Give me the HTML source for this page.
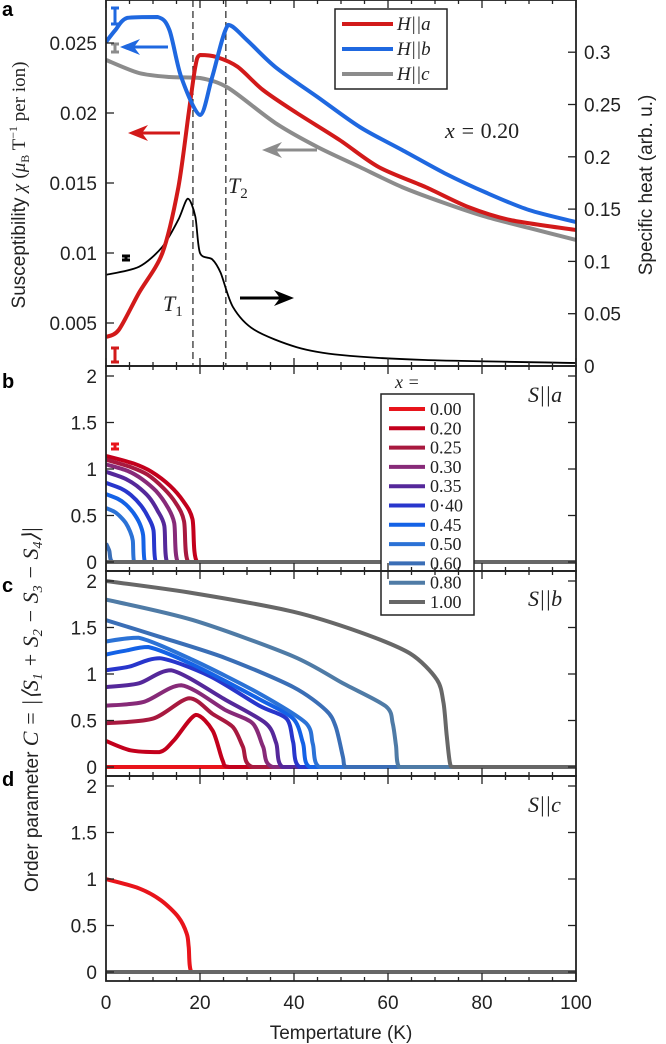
<!DOCTYPE html>
<html><head><meta charset="utf-8"><style>
body{margin:0;background:#fff;}
svg{display:block;font-family:"Liberation Sans",sans-serif;}
.tk{font-size:19px;fill:#222;}
.m{font-family:"Liberation Serif",serif;font-style:italic;fill:#222;}
</style></head><body>
<svg id="fig" width="666" height="1044" viewBox="0 0 666 1044">
<defs>
<clipPath id="cpa"><rect x="106" y="0" width="470" height="366"/></clipPath>
<clipPath id="cpb"><rect x="106" y="366" width="470" height="205"/></clipPath>
<clipPath id="cpc"><rect x="106" y="571" width="470" height="205"/></clipPath>
<clipPath id="cpd"><rect x="106" y="776" width="470" height="205"/></clipPath>
</defs>
<g id="marks"></g>
<g id="axes"></g>
<text x="2" y="16" font-weight="bold" font-size="20">a</text>
<text x="2" y="388" font-weight="bold" font-size="20">b</text>
<text x="2" y="592" font-weight="bold" font-size="20">c</text>
<text x="2" y="786" font-weight="bold" font-size="20">d</text>
<text transform="translate(25,185) rotate(-90)" text-anchor="middle" font-size="19" fill="#222">Susceptibility <tspan class="m">χ</tspan> <tspan font-family="Liberation Serif">(<tspan font-style="italic">μ</tspan><tspan font-size="12" dy="4">B</tspan><tspan dy="-4"> T</tspan><tspan font-size="12" dy="-8">−1</tspan><tspan dy="8"> per ion)</tspan></tspan></text>
<text transform="translate(652,185) rotate(-90)" text-anchor="middle" font-size="19" fill="#222">Specific heat (arb. u.)</text>
<text transform="translate(38,892) rotate(-90)" font-size="19" fill="#222">Order parameter <tspan class="m" font-size="22">C = |⟨S<tspan font-size="14" dy="4">1</tspan><tspan dy="-4"> + S</tspan><tspan font-size="14" dy="4">2</tspan><tspan dy="-4"> − S</tspan><tspan font-size="14" dy="4">3</tspan><tspan dy="-4"> − S</tspan><tspan font-size="14" dy="4">4</tspan><tspan dy="-4">⟩|</tspan></tspan></text>
<text x="341" y="1039" text-anchor="middle" font-size="19" fill="#222">Tempertature (K)</text>
<text x="445" y="138" font-size="22" class="m">x = <tspan font-style="normal">0.20</tspan></text>
<text x="228" y="193" font-size="22" class="m">T<tspan font-size="15" dy="5" font-style="normal">2</tspan></text>
<text x="163" y="311" font-size="22" class="m">T<tspan font-size="15" dy="5" font-style="normal">1</tspan></text>
<text x="528" y="402" font-size="22" class="m">S||a</text>
<text x="528" y="606" font-size="22" class="m">S||b</text>
<text x="528" y="812" font-size="22" class="m">S||c</text>
</svg>
<script>
// ---------- data ----------
const tempTicks = [0, 20, 40, 60, 80, 100];
const chiTicks = [0.005, 0.01, 0.015, 0.02, 0.025];
const chiTickLabels = ["0.005", "0.01", "0.015", "0.02", "0.025"];
const heatTicks = [0, 0.05, 0.1, 0.15, 0.2, 0.25, 0.3];
const heatTickLabels = ["0", "0.05", "0.1", "0.15", "0.2", "0.25", "0.3"];
const opTicks = [0, 0.5, 1, 1.5, 2];
const opTickLabels = ["0", "0.5", "1", "1.5", "2"];

const chiA_T = [0, 2.7, 7, 12, 15.4, 17.6, 19, 20, 23.5, 28, 33.4, 40.6, 49.7, 58, 68, 77, 86, 100];
const chiA_V = [0.0040, 0.0045, 0.00714, 0.0100, 0.01471, 0.0200, 0.02329, 0.02414, 0.0240, 0.0233, 0.02164, 0.0200, 0.01807, 0.01614, 0.01471, 0.01329, 0.01236, 0.01164];
const chiB_T = [0, 2, 4.5, 11, 13.5, 16, 20, 22.6, 26, 30, 36, 45, 54, 63, 72, 81, 90, 100];
const chiB_V = [0.02507, 0.02593, 0.02679, 0.02686, 0.02593, 0.02257, 0.01986, 0.02257, 0.02629, 0.02521, 0.02329, 0.02114, 0.0190, 0.01736, 0.01571, 0.01429, 0.01307, 0.01221];
const chiC_T = [0, 7, 13.5, 20, 26, 36, 45, 54, 63, 72, 81, 90, 100];
const chiC_V = [0.02379, 0.02286, 0.02257, 0.0225, 0.02179, 0.01929, 0.01757, 0.01614, 0.01471, 0.01357, 0.01257, 0.01179, 0.01093];
const heat_T = [0, 7, 12, 15.4, 17.4, 19, 20, 22.6, 24.4, 27, 31.6, 40.6, 50, 68, 100];
const heat_V = [0.0872, 0.0948, 0.114, 0.14, 0.16, 0.143, 0.108, 0.102, 0.089, 0.0565, 0.0345, 0.018, 0.0105, 0.0057, 0.0029];
const transitionTemps = [18.5, 25.5];

const dopings = ["0.00", "0.20", "0.25", "0.30", "0.35", "0·40", "0.45", "0.50", "0.60", "0.80", "1.00"];
const sa_T = [
 [0, 100],
 [0, 5.8, 9.7, 13.6, 16.5, 18.4, 19.4, 100],
 [0, 5.3, 8.8, 12.3, 14.9, 16.6, 17.5, 100],
 [0, 4.6, 7.7, 10.7, 13, 14.5, 15.3, 100],
 [0, 3.9, 6.5, 9.1, 11, 12.4, 13, 100],
 [0, 3.2, 5.3, 7.4, 9, 10.1, 10.6, 100],
 [0, 2.5, 4.2, 5.8, 7.1, 7.9, 8.3, 100],
 [0, 1.8, 3, 4.2, 5.1, 5.7, 6, 100],
 [0, 0.7, 1.4, 100],
 [0, 100],
 [0, 100]];
const sa_V = [
 [0, 0],
 [1.14, 1.06, 0.97, 0.82, 0.65, 0.46, 0, 0],
 [1.10, 1.02, 0.94, 0.79, 0.63, 0.44, 0, 0],
 [1.05, 0.98, 0.89, 0.76, 0.60, 0.42, 0, 0],
 [0.97, 0.90, 0.82, 0.70, 0.55, 0.39, 0, 0],
 [0.85, 0.79, 0.72, 0.61, 0.48, 0.34, 0, 0],
 [0.73, 0.68, 0.62, 0.53, 0.42, 0.29, 0, 0],
 [0.58, 0.54, 0.49, 0.42, 0.33, 0.23, 0, 0],
 [0.2, 0.12, 0, 0],
 [0, 0],
 [0, 0]];
const sb_T = [
 [0, 100],
 [0, 5.2, 11.4, 14.5, 19.1, 22.7, 24.8, 26.2, 100],
 [0, 10, 17.7, 22.7, 27, 29.1, 31.2, 100],
 [0, 8, 16, 25.5, 31.2, 33.4, 35.5, 100],
 [0, 7, 13.9, 25.5, 34, 36.2, 37.6, 100],
 [0, 5, 11.4, 22, 32.6, 38.4, 39.8, 41.2, 100],
 [0, 4, 9, 18.5, 32.6, 39.8, 41.9, 43.3, 100],
 [0, 6.9, 18.5, 32.6, 42.6, 44, 45.4, 100],
 [0, 11.4, 25.5, 39.8, 46.8, 48.9, 50.4, 51, 100],
 [0, 18.5, 39.8, 50.4, 59.6, 61, 61.7, 62.4, 100],
 [0, 18.5, 39.8, 54, 64.7, 70.4, 71.8, 72.5, 73.2, 74, 100]];
const sb_V = [
 [0, 0],
 [0.28, 0.18, 0.16, 0.29, 0.56, 0.39, 0.07, 0, 0],
 [0.47, 0.52, 0.74, 0.57, 0.43, 0.22, 0, 0],
 [0.66, 0.70, 0.88, 0.61, 0.47, 0.22, 0, 0],
 [0.86, 0.90, 1.04, 0.72, 0.47, 0.26, 0, 0],
 [1.04, 1.08, 1.17, 0.98, 0.66, 0.52, 0.27, 0, 0],
 [1.21, 1.25, 1.29, 1.10, 0.73, 0.52, 0.26, 0, 0],
 [1.35, 1.39, 1.15, 0.79, 0.47, 0.25, 0, 0],
 [1.58, 1.40, 1.17, 0.86, 0.61, 0.43, 0.11, 0, 0],
 [1.80, 1.58, 1.19, 0.90, 0.65, 0.47, 0.23, 0, 0],
 [2.0, 1.87, 1.67, 1.45, 1.22, 0.94, 0.69, 0.33, 0.04, 0, 0]];
const sc_T = [
 [0, 7, 11.7, 15.4, 17.2, 17.6, 18.2, 100],
 [0, 100], [0, 100], [0, 100], [0, 100], [0, 100], [0, 100], [0, 100], [0, 100], [0, 100], [0, 100]];
const sc_V = [
 [1.0, 0.9, 0.77, 0.59, 0.41, 0.27, 0, 0],
 [0, 0], [0, 0], [0, 0], [0, 0], [0, 0], [0, 0], [0, 0], [0, 0], [0, 0], [0, 0]];
const dopingColors = ["#e8141b", "#c3001c", "#a8193f", "#872a78", "#55289a", "#2836cc", "#1462e6", "#2b72d6", "#3a6eb6", "#4f7ba6", "#676767"];

// ---------- scales ----------
const NS = "http://www.w3.org/2000/svg";
const X0 = 106, X1 = 576;
function xS(t) { return X0 + t * (X1 - X0) / 100; }
function yChi(v) { return 43 + (0.025 - v) / 0.005 * 70; }
function yHeat(v) { return 366 - v / 0.05 * 52.3; }
const panelTops = [366, 571, 776];
function yOP(p, v) { return panelTops[p] + 10 + (2 - v) * 93; }

const marks = document.getElementById('marks');
const axes = document.getElementById('axes');
function mk(tag, attrs, parent) {
  const e = document.createElementNS(NS, tag);
  for (const k in attrs) e.setAttribute(k, attrs[k]);
  (parent || marks).appendChild(e);
  return e;
}
function pathD(ts, vs, yf) {
  const P = ts.map((t, i) => [xS(t), yf(vs[i])]);
  if (P.length < 3) return 'M' + P.map(p => p[0].toFixed(1) + ',' + p[1].toFixed(1)).join('L');
  let d = 'M' + P[0][0].toFixed(1) + ',' + P[0][1].toFixed(1);
  const k = 1 / 7;
  for (let i = 0; i < P.length - 1; i++) {
    const p0 = P[i - 1] || P[i], p1 = P[i], p2 = P[i + 1], p3 = P[i + 2] || P[i + 1];
    let c1 = [p1[0] + (p2[0] - p0[0]) * k, p1[1] + (p2[1] - p0[1]) * k];
    let c2 = [p2[0] - (p3[0] - p1[0]) * k, p2[1] - (p3[1] - p1[1]) * k];
    const lo = Math.min(p1[1], p2[1]), hi = Math.max(p1[1], p2[1]);
    c1[1] = Math.min(hi, Math.max(lo, c1[1])); c2[1] = Math.min(hi, Math.max(lo, c2[1]));
    const lx = Math.min(p1[0], p2[0]), hx = Math.max(p1[0], p2[0]);
    c1[0] = Math.min(hx, Math.max(lx, c1[0])); c2[0] = Math.min(hx, Math.max(lx, c2[0]));
    d += 'C' + c1[0].toFixed(1) + ',' + c1[1].toFixed(1) + ' ' + c2[0].toFixed(1) + ',' + c2[1].toFixed(1) + ' ' + p2[0].toFixed(1) + ',' + p2[1].toFixed(1);
  }
  return d;
}

// ---------- panel a ----------
const ga = mk('g', { 'clip-path': 'url(#cpa)' });


transitionTemps.forEach((t, i) => {
  const l = mk('line', { x1: xS(t), x2: xS(t), y1: 0, y2: 366, stroke: '#222', 'stroke-width': 1.2, 'stroke-dasharray': '7,4' }, ga);
  
  
});
const hc = mk('path', { d: pathD(heat_T, heat_V, yHeat), fill: 'none', stroke: '#000', 'stroke-width': 1.8 }, ga);


const sA = [[chiC_T, chiC_V, '#8c8c8c', 'chi-h-c-curve'], [chiA_T, chiA_V, '#d21a1a', 'chi-h-a-curve'], [chiB_T, chiB_V, '#1f68e0', 'chi-h-b-curve']];
sA.forEach(s => {
  const p = mk('path', { d: pathD(s[0], s[1], yChi), fill: 'none', stroke: s[2], 'stroke-width': 4, 'stroke-linejoin': 'round' }, ga);
  
  
});
function ebar(x, y1, y2, c, n) {
  const g = mk('g', { stroke: c, 'stroke-width': 3 });
  mk('line', { x1: x, x2: x, y1: y1, y2: y2 }, g);
  mk('line', { x1: x - 4, x2: x + 4, y1: y1, y2: y1 }, g);
  mk('line', { x1: x - 4, x2: x + 4, y1: y2, y2: y2 }, g);
  
  
}
ebar(115, 8, 24, '#1f68e0', 'error-bar-h-b');
ebar(115, 44, 52, '#8c8c8c', 'error-bar-h-c');
ebar(115, 348, 362, '#d21a1a', 'error-bar-h-a');
ebar(126, 256, 260, '#000', 'error-bar-heat');
ebar(115, 444, 449, '#e8141b', 'error-bar-s-a');
function arrow(x1, x2, y, c, n) {
  const g = mk('g', {});
  const dir = x2 > x1 ? 1 : -1;
  mk('line', { x1: x1, x2: x2 - dir * 14, y1: y, y2: y, stroke: c, 'stroke-width': 3 }, g);
  mk('polygon', { points: `${x2},${y} ${x2 - dir * 20},${y - 8} ${x2 - dir * 14},${y} ${x2 - dir * 20},${y + 8}`, fill: c }, g);
  
  
}
arrow(168, 120, 47, '#1f68e0', 'arrow-h-b-left-axis');
arrow(180, 128, 133, '#d21a1a', 'arrow-h-a-left-axis');
arrow(317, 262, 150, '#8c8c8c', 'arrow-h-c-left-axis');
arrow(240, 294, 298, '#000', 'arrow-heat-right-axis');

const la = mk('g', {});


mk('rect', { x: 335, y: 9, width: 112, height: 80, fill: '#fff', stroke: '#222', 'stroke-width': 1.5 }, la);
[['#d21a1a', 'a'], ['#1f68e0', 'b'], ['#8c8c8c', 'c']].forEach((e, i) => {
  const g = mk('g', {}, la);
  
  
  mk('line', { x1: 342, x2: 393, y1: 24 + i * 25, y2: 24 + i * 25, stroke: e[0], 'stroke-width': 4 }, g);
  const t = mk('text', { x: 397, y: 30 + i * 25, class: 'm', 'font-size': 19 }, g);
  t.textContent = 'H||' + e[1];
});

// ---------- panels b,c,d ----------
const pdat = [[sa_T, sa_V, 'cpb', 's-a'], [sb_T, sb_V, 'cpc', 's-b'], [sc_T, sc_V, 'cpd', 's-c']];
pdat.forEach((pd, p) => {
  const g = mk('g', { 'clip-path': 'url(#' + pd[2] + ')' });
  
  
  dopings.forEach((d, i) => {
    const path = mk('path', { d: pathD(pd[0][i], pd[1][i], v => yOP(p, v)), fill: 'none', stroke: dopingColors[i], 'stroke-width': 4, 'stroke-linejoin': 'round' }, g);
    
    
  });
});
const lb = mk('g', {});


const lbt = mk('text', { x: 395, y: 388, class: 'm', 'font-size': 18 }, lb);
lbt.textContent = 'x =';
mk('rect', { x: 381, y: 394, width: 93, height: 221, fill: '#fff', stroke: '#222', 'stroke-width': 1.5 }, lb);
dopings.forEach((d, i) => {
  const g = mk('g', {}, lb);
  
  
  const y = 409 + i * 19.3;
  mk('line', { x1: 389, x2: 425, y1: y, y2: y, stroke: dopingColors[i], 'stroke-width': 4 }, g);
  const t = mk('text', { x: 430, y: y + 6, 'font-size': 18, 'font-family': 'Liberation Serif, serif', fill: '#222' }, g);
  t.textContent = d;
});

// ---------- axes ----------
function frame(top, h, n) {
  const r = mk('rect', { x: X0, y: top, width: X1 - X0, height: h, fill: 'none', stroke: '#222', 'stroke-width': 1.8 }, axes);
  
  
  for (let t = 0; t <= 100; t += 5) {
    const L = t % 20 === 0 ? 8 : 4;
    mk('line', { x1: xS(t), x2: xS(t), y1: top + h, y2: top + h - L, stroke: '#222', 'stroke-width': 1.3 }, axes);
    mk('line', { x1: xS(t), x2: xS(t), y1: top, y2: top + L, stroke: '#222', 'stroke-width': 1.3 }, axes);
  }
}
frame(0, 366, 'panel-a-frame');
frame(366, 205, 'panel-b-frame');
frame(571, 205, 'panel-c-frame');
frame(776, 205, 'panel-d-frame');
chiTicks.forEach((v, i) => {
  const y = yChi(v);
  mk('line', { x1: X0, x2: X0 + 8, y1: y, y2: y, stroke: '#222', 'stroke-width': 1.3 }, axes);
  const t = mk('text', { x: 97, y: y + 7, 'text-anchor': 'end', class: 'tk' }, axes);
  t.textContent = chiTickLabels[i];
  
  
});
heatTicks.forEach((v, i) => {
  const y = yHeat(v);
  mk('line', { x1: X1 - 8, x2: X1, y1: y, y2: y, stroke: '#222', 'stroke-width': 1.3 }, axes);
  const t = mk('text', { x: 584, y: y + 7, class: 'tk' }, axes);
  t.textContent = heatTickLabels[i];
  
  
});
[0, 1, 2].forEach(p => {
  opTicks.forEach((v, i) => {
    const y = yOP(p, v);
    mk('line', { x1: X0, x2: X0 + 8, y1: y, y2: y, stroke: '#222', 'stroke-width': 1.3 }, axes);
    mk('line', { x1: X1 - 8, x2: X1, y1: y, y2: y, stroke: '#222', 'stroke-width': 1.3 }, axes);
    const t = mk('text', { x: 97, y: y + 7, 'text-anchor': 'end', class: 'tk' }, axes);
    t.textContent = opTickLabels[i];
    
    
  });
});
tempTicks.forEach(v => {
  const t = mk('text', { x: xS(v), y: 1009, 'text-anchor': 'middle', class: 'tk' }, axes);
  t.textContent = v;
  
  
});
</script>
</body></html>
